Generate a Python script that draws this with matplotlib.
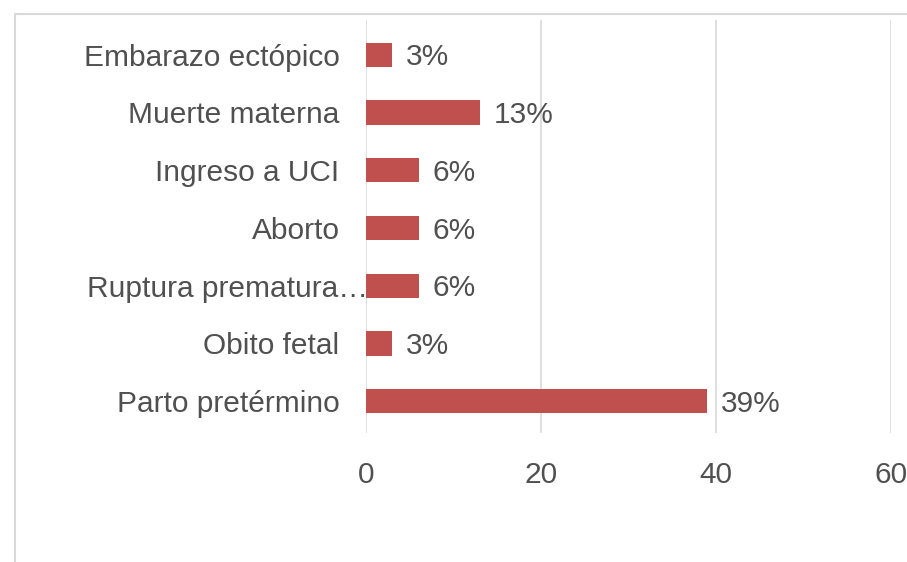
import matplotlib
matplotlib.use("Agg")
import matplotlib.pyplot as plt
from matplotlib.patches import Rectangle
from matplotlib.transforms import ScaledTranslation

categorias = ["Parto pretérmino", "Obito fetal", "Ruptura prematura…",
              "Aborto", "Ingreso a UCI", "Muerte materna", "Embarazo ectópico"]
valores = [39, 3, 6, 6, 6, 13, 3]
etiquetas = ["39%", "3%", "6%", "6%", "6%", "13%", "3%"]
ticks_x = [0, 20, 40, 60]

plt.rcParams['font.family'] = ['Liberation Sans', 'DejaVu Sans']
gris = "#505050"

W, H = 907, 562
fig = plt.figure(figsize=(W / 100, H / 100), dpi=100)
ax = fig.add_axes([366 / W, 1 - 433 / H, (891 - 366) / W, (433 - 20) / H])

# marco del grafico (recortado)
fig.patches.append(Rectangle((15 / W, -0.1), 1.2, 1 - 14 / H + 0.1,
                             transform=fig.transFigure, fill=False,
                             edgecolor="#D9D9D9", lw=1.5))

pos = list(range(len(categorias)))
ax.barh(pos, valores, height=0.42, color="#C0504D", zorder=3)
for p, v, t in zip(pos, valores, etiquetas):
    ax.annotate(t, (v, p), xytext=(10, -2), textcoords="offset points",
                va="center", ha="left", fontsize=21.5, color=gris)

ax.set_xlim(0, 60)
ax.set_ylim(-0.55, 6.6)
ax.set_xticks(ticks_x)
ax.set_yticks(pos)
ax.set_yticklabels(categorias)
ax.tick_params(axis="both", length=0, labelsize=21.5, labelcolor=gris)
ax.tick_params(axis="y", pad=19)
ax.tick_params(axis="x", pad=20)
ax.grid(axis="x", color="#D9D9D9", lw=1.2, zorder=0)
for s in ax.spines.values():
    s.set_visible(False)

# la etiqueta recortada queda mas a la derecha
lbl = ax.get_yticklabels()[2]
lbl.set_transform(lbl.get_transform() + ScaledTranslation(0.28, 0, fig.dpi_scale_trans))

fig.savefig("out.png", dpi=100)
